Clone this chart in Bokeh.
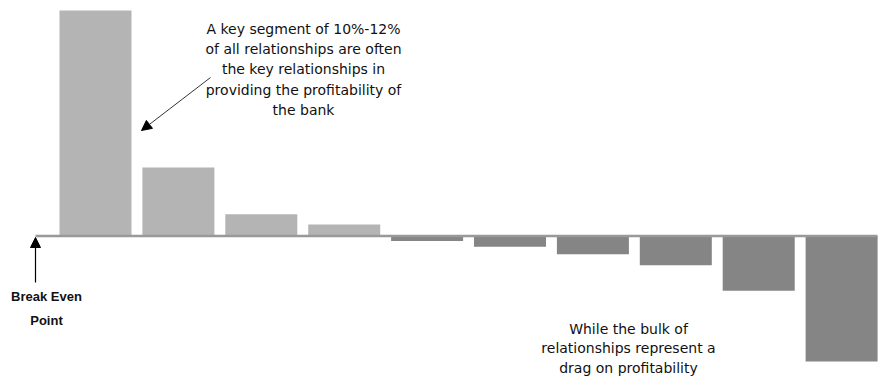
from bokeh.plotting import figure
from bokeh.models import Range1d, Arrow, NormalHead, Label, ColumnDataSource
from bokeh.embed import file_html
from bokeh.resources import INLINE

# Data (relative profitability per relationship segment, first segment = 100)
segments = list(range(10))
values = [100, 30.4, 9.6, 5.1, -2.2, -4.8, -8.1, -13.0, -24.3, -55.6]
pos_color = "#b4b4b4"
neg_color = "#858585"

W, H = 894, 378
# pixel layout helpers
PX_PER_SEG = 82.9
X0_PX = 95.0
PX_PER_UNIT = 2.255
Y0_PX = 235.5

def xd(px):
    return (px - X0_PX) / PX_PER_SEG

def yd(py):
    return (Y0_PX - py) / PX_PER_UNIT

p = figure(width=W, height=H, output_backend="svg", toolbar_location=None,
           x_range=Range1d(xd(0), xd(W)), y_range=Range1d(yd(H), yd(0)),
           min_border=0, outline_line_color=None)
p.axis.visible = False
p.grid.visible = False
p.background_fill_color = "white"
p.border_fill_color = "white"

colors = [pos_color if v >= 0 else neg_color for v in values]
src = ColumnDataSource(dict(x=segments, top=values, bottom=[0] * len(values), color=colors))
p.vbar(x="x", top="top", bottom="bottom", width=72 / PX_PER_SEG, source=src,
       fill_color="color", line_color=None)

# break even line
p.line([xd(35), xd(877)], [0, 0], line_color="#999999", line_width=2.5)

# break even arrow
p.add_layout(Arrow(end=NormalHead(size=10, fill_color="black", line_color="black"),
                   x_start=xd(35), y_start=yd(282), x_end=xd(35), y_end=yd(237),
                   line_color="black", line_width=1.2))
for txt, py in [("Break Even", 296), ("Point", 320)]:
    p.add_layout(Label(x=xd(46), y=yd(py), text=txt, text_align="center",
                       text_baseline="middle", text_font="Liberation Sans",
                       text_font_style="bold", text_font_size="13px", text_color="#111111"))

FONT = "DejaVu Sans"
FS = "14px"
# top annotation
top_lines = ["A key segment of 10%-12%", "of all relationships are often",
             "the key relationships in", "providing the profitability of", "the bank"]
for i, txt in enumerate(top_lines):
    p.add_layout(Label(x=xd(303), y=yd(28 + 20.4 * i), text=txt, text_align="center",
                       text_baseline="middle", text_font=FONT,
                       text_font_size=FS, text_color="#111111"))
p.add_layout(Arrow(end=NormalHead(size=10, fill_color="black", line_color="black"),
                   x_start=xd(210), y_start=yd(77), x_end=xd(141), y_end=yd(130),
                   line_color="#333333", line_width=1))

# bottom annotation
bot_lines = ["While the bulk of", "relationships represent a", "drag on profitability"]
for i, txt in enumerate(bot_lines):
    p.add_layout(Label(x=xd(628), y=yd(328 + 19.5 * i), text=txt, text_align="center",
                       text_baseline="middle", text_font=FONT,
                       text_font_size=FS, text_color="#111111"))

open("out.html", "w").write(file_html(p, INLINE))
